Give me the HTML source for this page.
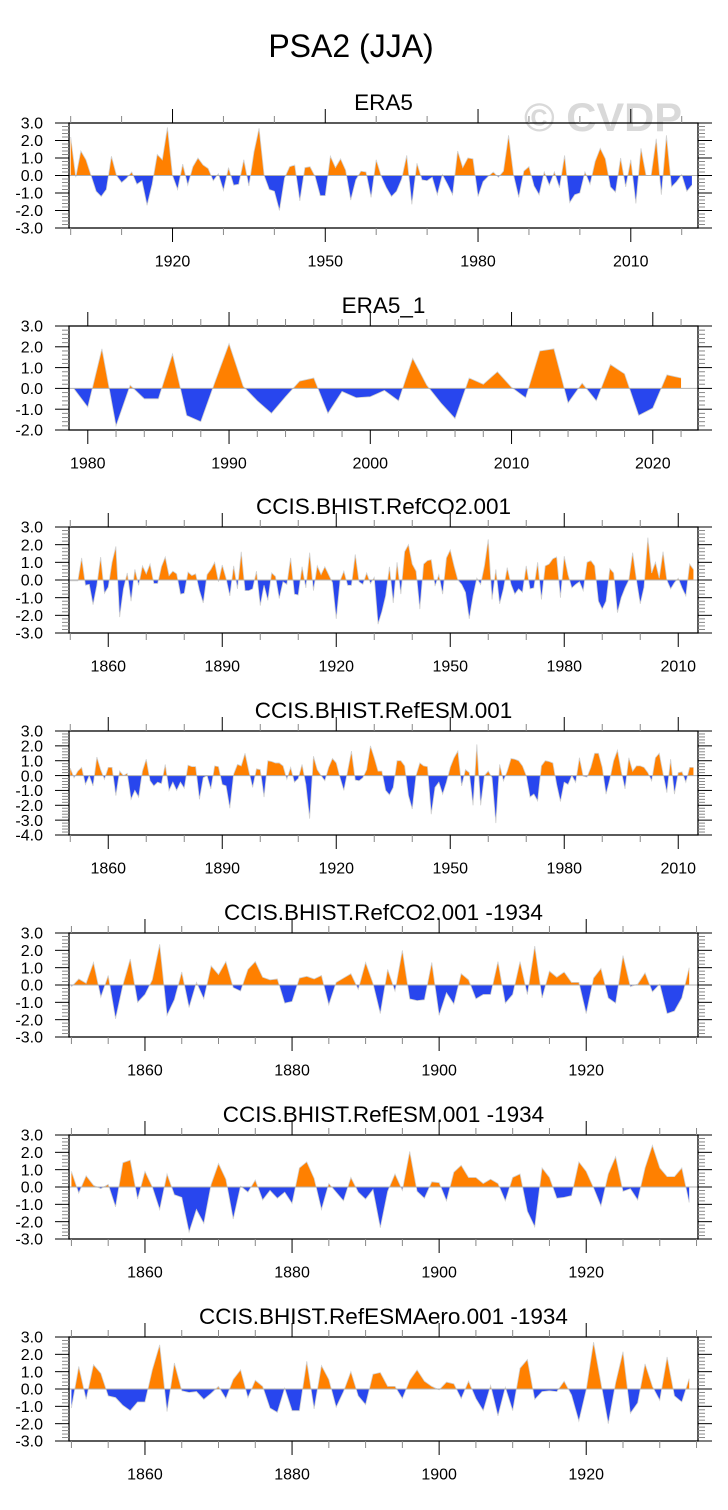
<!DOCTYPE html>
<html><head><meta charset="utf-8"><style>
html,body{margin:0;padding:0;background:#fff;}
svg{display:block;font-family:"Liberation Sans",sans-serif;}
</style></head><body>
<svg id="chart" width="728" height="1510" viewBox="0 0 728 1510" xmlns="http://www.w3.org/2000/svg">
<rect x="0" y="0" width="728" height="1510" fill="#fff"/>
<text x="351" y="57" font-size="32" text-anchor="middle" fill="#000">PSA2 (JJA)</text>
<text x="524" y="131" font-size="40" font-weight="bold" fill="#d9d9d9" textLength="158" lengthAdjust="spacingAndGlyphs">© CVDP</text>
<g id="panels"></g>
</svg>
<script>
// ---- data ----
const era5Start = 1900;
const era5Values = [2.2,-0.1,1.4,0.9,0.0,-0.9,-1.2,-0.8,1.1,0,-0.4,-0.15,0.2,-0.5,-0.3,-1.7,-0.5,1.2,0.9,2.75,0,-0.8,0.65,-0.55,0.5,1.0,0.6,0.4,-0.3,0.1,-0.85,0.45,-0.55,-0.5,0.9,-0.6,1.35,2.7,0,-0.8,-0.9,-2.0,-0.15,0.5,0.6,-1.45,0.45,0.5,-0.05,-1.15,-1.15,1.1,0.45,0.95,0.3,-1.4,-0.25,0.25,0.2,-1.25,0.9,-0.05,-0.7,-1.2,-0.9,-0.2,1.15,-1.65,0.7,-0.25,-0.3,-0.1,-1.1,0.05,-0.5,-1.1,1.4,0.45,1.0,0.95,-1.2,-0.35,-0.05,0.2,-0.1,0.25,2.3,0,-1.25,0.25,0.5,-0.6,-1.1,0.2,-0.55,0.2,-0.7,1.15,-1.55,-1.1,-1.0,0.2,-0.5,0.8,1.55,0.95,-0.65,-0.95,1.0,-0.65,0.9,-1.6,1.55,0,0,2.1,-1.1,2.3,-0.65,-0.35,0.05,-0.9,-0.55];
const era5bStart = 1979;
const era5bValues = [0.0,-0.9,1.9,-1.8,0.15,-0.5,-0.5,1.65,-1.3,-1.6,0.3,2.15,0.1,-0.6,-1.2,-0.4,0.35,0.5,-1.2,-0.15,-0.45,-0.4,-0.1,-0.6,1.45,0.15,-0.7,-1.45,0.5,0.2,0.8,0.05,-0.45,1.8,1.9,-0.7,0.25,-0.6,1.15,0.7,-1.3,-0.95,0.65,0.5];
const co2Start = 1850;
const co2Values = [-0.05,-0.05,-0.05,1.25,-0.3,-0.25,-1.4,-0.3,1.3,-0.75,-0.4,1.0,1.9,-2.1,-0.5,0.4,-1.2,0.6,-0.3,0.8,0.35,0.9,-0.2,-0.2,0.75,1.3,0.25,0.5,0.35,-0.8,-0.75,0.45,0.25,0.35,-0.6,-1.3,0.3,0.6,1.0,-0.1,0.85,0.1,-0.9,0.8,-0.5,1.6,-0.6,-0.6,-0.5,0.5,-1.45,-0.3,-1.15,0.4,0.2,-1.05,-0.1,-0.25,1.25,-0.8,-0.85,0.75,-0.45,1.55,-0.6,0.8,0.3,0.75,0.3,-0.15,-2.2,-0.05,0.5,-0.3,-0.3,1.45,-0.1,-0.25,0.4,-0.2,0.15,-2.5,-1.8,-0.9,0.75,-1.3,1.0,-0.8,1.6,2.0,0.9,0.5,-1.65,0.9,1.1,1.15,-0.35,0.3,-0.8,1.25,1.7,0.8,0,-0.25,-0.7,-2.2,-0.9,0.1,-0.25,0.8,2.3,-1.1,0.6,-1.35,-0.5,0.7,-0.25,-0.8,-0.5,-0.7,0.8,-0.5,-0.45,1.0,-1.1,0.8,0.9,1.2,1.3,-1.0,1.35,0.3,-0.45,-0.25,-0.1,-0.6,1.0,1.1,0.8,-1.2,-1.65,-1.2,0.65,0.4,-1.85,-1.0,-0.45,0,1.55,0,-1.35,-0.4,2.4,0.4,1.0,0.1,1.6,0,-0.5,-0.15,0.1,-0.45,-0.9,0.9,0.6];
const esmStart = 1850;
const esmValues = [0.5,-0.15,0.3,0.55,-0.6,0,-0.7,1.25,0.4,-0.25,0.55,0.55,-1.35,0.3,0,0.15,-1.6,-1.0,-1.45,0.3,1.1,-0.35,-0.7,-0.45,-0.55,0.75,-1.0,-0.45,-1.0,-0.45,-0.85,0.7,0.6,0.6,-1.6,-0.15,0,-0.9,0.65,0.6,-0.6,-0.7,-2.2,0.1,0.75,0.65,1.5,0.3,-0.8,0.45,0.4,-1.45,1.0,0.95,0.85,0.85,0.65,-0.25,0.55,-0.45,-0.2,0.75,-0.6,-2.9,1.3,0.4,0,-0.35,0.55,1.15,0.85,-0.15,-1.0,0.3,1.65,-0.3,-0.35,-0.15,0.4,2.0,1.2,0.3,0.3,-1.0,-1.3,-0.8,1.0,1.0,0.65,-1.35,-2.25,0,0.85,0.65,0.6,-2.6,-0.8,-0.45,-1.25,-0.45,0.55,1.2,1.65,-0.7,0.4,0.2,-2.0,2.1,-2.0,0,0.3,-0.15,-3.2,0.75,-0.35,0.3,1.15,1.1,1.0,0.65,0,-1.45,-1.25,-1.7,0.65,1.0,0.95,0.85,-0.6,-1.75,-0.45,-0.6,0,-0.45,1.2,-0.05,-0.1,0.55,1.5,1.5,0.55,-1.25,-0.25,1.0,1.7,0.3,-0.9,1.2,0.3,0.65,0.65,0.55,0.2,-0.35,1.2,1.5,0.15,-1.15,1.1,-1.25,0.2,0.25,-0.45,0.55,0.55];
const co2bStart = 1850;
const co2bValues = [-0.1,0.35,0.1,1.3,-0.7,0.55,-1.95,0,1.5,-1.0,-0.55,0.3,2.35,-1.75,-0.85,0.75,-1.3,0.15,-0.8,1.1,0.6,1.35,-0.15,-0.35,0.9,1.35,0.45,0.3,0.35,-1.05,-0.95,0.4,0.5,0.35,0.55,-1.15,0.15,0.4,0.65,-0.25,1.3,0.1,-1.65,0.9,-0.35,2.0,-0.8,-0.9,-0.85,1.3,-1.75,-0.45,-1.1,0.65,0.3,-0.8,-0.55,-0.55,1.35,-1.05,-0.55,1.35,-0.55,2.25,-0.75,0.8,0.45,0.75,0.15,0.15,-1.65,0.4,0.95,-0.75,-1.05,1.7,-0.1,0.05,0.7,-0.4,0.05,-1.65,-1.5,-0.75,1.0];
const esmbStart = 1850;
const esmbValues = [0.9,-0.35,0.65,0.1,-0.1,0.15,-1.15,1.4,1.55,-0.7,0.9,0,-1.3,0.75,-0.45,-0.6,-2.6,-1.3,-2.1,0.15,1.35,0.45,-1.85,0.05,-0.3,0.4,-0.75,-0.2,-0.65,-0.3,-0.95,1.1,1.45,0.5,-1.3,0.2,-0.3,-0.8,0.55,-0.3,-0.7,-0.15,-2.35,-0.25,0.75,-0.2,2.05,-0.25,-0.65,0.3,0.25,-0.8,0.85,1.25,0.55,0.55,0.2,0.45,0.2,-0.8,0.55,0.75,-1.4,-2.3,1.1,0.55,-0.65,-0.6,-0.5,1.45,0.9,-0.05,-1.1,0.75,1.75,-0.25,-0.1,-0.75,1.1,2.4,1.1,0.6,0.6,1.1,-0.9];
const aeroStart = 1850;
const aeroValues = [-1.1,1.3,-0.6,1.4,0.9,-0.4,-0.5,-0.95,-1.25,-0.75,-0.75,1.1,2.55,-1.3,1.5,-0.1,-0.2,-0.15,-0.6,-0.25,0.15,-0.55,0.55,1.1,-0.5,0.5,0.15,-1.1,-1.35,0.05,-1.25,-1.25,1.6,-1.15,1.35,0.55,-1.05,-0.15,1.0,-0.4,-0.9,0.85,0.95,0.15,0.15,-0.55,0.5,1.1,0.45,0.15,-0.05,0.4,0.3,-0.55,0.45,-0.55,-1.25,0.2,-1.55,0.1,-1.25,1.2,1.7,-0.6,-0.15,-0.1,-0.15,0.45,-0.35,-1.85,-0.05,2.7,0.35,-2.0,0.35,2.15,-1.4,-0.8,1.45,0.15,-0.65,1.85,-0.4,-0.75,0.6];
const yTickLabels3 = ["3.0","2.0","1.0","0.0","-1.0","-2.0","-3.0"];
const yTickLabelsERA5_1 = ["3.0","2.0","1.0","0.0","-1.0","-2.0"];
const yTickLabels4 = ["3.0","2.0","1.0","0.0","-1.0","-2.0","-3.0","-4.0"];
const panelTitles = ["ERA5","ERA5_1","CCIS.BHIST.RefCO2.001","CCIS.BHIST.RefESM.001","CCIS.BHIST.RefCO2.001 -1934","CCIS.BHIST.RefESM.001 -1934","CCIS.BHIST.RefESMAero.001 -1934"];

// ---- layout ----
const NS = "http://www.w3.org/2000/svg";
const X0 = 69, X1 = 698;
const panels = [
  {top:123, bot:228, start:era5Start, vals:era5Values, ylab:yTickLabels3, ymax:3, ymin:-3, major:30, minor:10, firstMajor:1920},
  {top:326, bot:430, start:era5bStart, vals:era5bValues, ylab:yTickLabelsERA5_1, ymax:3, ymin:-2, major:10, minor:2, firstMajor:1980},
  {top:527, bot:633, start:co2Start, vals:co2Values, ylab:yTickLabels3, ymax:3, ymin:-3, major:30, minor:10, firstMajor:1860},
  {top:731, bot:835, start:esmStart, vals:esmValues, ylab:yTickLabels4, ymax:3, ymin:-4, major:30, minor:10, firstMajor:1860},
  {top:933, bot:1037, start:co2bStart, vals:co2bValues, ylab:yTickLabels3, ymax:3, ymin:-3, major:20, minor:5, firstMajor:1860},
  {top:1135, bot:1239, start:esmbStart, vals:esmbValues, ylab:yTickLabels3, ymax:3, ymin:-3, major:20, minor:5, firstMajor:1860},
  {top:1337, bot:1441, start:aeroStart, vals:aeroValues, ylab:yTickLabels3, ymax:3, ymin:-3, major:20, minor:5, firstMajor:1860}
];
const root = document.getElementById('panels');
function mk(tag, attrs, parent){
  const e = document.createElementNS(NS, tag);
  for (const k in attrs) e.setAttribute(k, attrs[k]);
  parent.appendChild(e);
  return e;
}
panels.forEach((p, pi) => {
  const g = mk('g', {}, root);
  
  
  const n = p.vals.length;
  const xmin = p.start - 0.33, xmax = p.start + n - 1 + 1.2;
  const xs = yr => X0 + (yr - xmin) / (xmax - xmin) * (X1 - X0);
  const ys = v => p.top + (p.ymax - v) / (p.ymax - p.ymin) * (p.bot - p.top);
  const y0 = ys(0);
  const t = mk('text', {x:(X0+X1)/2, y:p.top-13, 'font-size':22.5, 'text-anchor':'middle', fill:'#000'}, g);
  t.textContent = panelTitles[pi];
  
  
  let d = 'M' + xs(p.start).toFixed(2) + ',' + y0.toFixed(2);
  let line = '';
  p.vals.forEach((v, i) => {
    const px = xs(p.start + i).toFixed(2), py = ys(v).toFixed(2);
    d += ' L' + px + ',' + py;
    line += (i ? ' L' : 'M') + px + ',' + py;
  });
  d += ' L' + xs(p.start + n - 1).toFixed(2) + ',' + y0.toFixed(2) + ' Z';
  const cidA = 'ca' + pi, cidB = 'cb' + pi;
  const defs = mk('defs', {}, g);
  const ca = mk('clipPath', {id:cidA}, defs);
  mk('rect', {x:X0, y:p.top, width:X1-X0, height:y0-p.top}, ca);
  const cb = mk('clipPath', {id:cidB}, defs);
  mk('rect', {x:X0, y:y0, width:X1-X0, height:p.bot-y0}, cb);
  const pos = mk('path', {d:d, fill:'#ff8000', 'clip-path':'url(#'+cidA+')'}, g);
  
  
  const neg = mk('path', {d:d, fill:'#2846ee', 'clip-path':'url(#'+cidB+')'}, g);
  
  
  const ln = mk('path', {d:line, fill:'none', stroke:'#d0d0d0', 'stroke-width':0.8}, g);
  
  
  const zl = mk('line', {x1:X0, x2:X1, y1:y0, y2:y0, stroke:'#b0b0b0', 'stroke-width':1}, g);
  
  
  const box = mk('rect', {x:X0, y:p.top, width:X1-X0, height:p.bot-p.top, fill:'none', stroke:'#000', 'stroke-width':1.3}, g);
  
  
  for (let v = p.ymin; v <= p.ymax + 1e-6; v += 0.2) {
    const yy = ys(v);
    const isMaj = Math.abs(v - Math.round(v)) < 1e-6;
    const len = isMaj ? 14 : 7, col = isMaj ? '#000' : '#888';
    mk('line', {x1:X0-len, x2:X0, y1:yy, y2:yy, stroke:col, 'stroke-width':1}, g);
    mk('line', {x1:X1, x2:X1+len, y1:yy, y2:yy, stroke:col, 'stroke-width':1}, g);
  }
  p.ylab.forEach((lab, i) => {
    const tx = mk('text', {x:43, y:ys(p.ymax - i) + 5.7, 'font-size':16, 'text-anchor':'end', fill:'#000'}, g);
    tx.textContent = lab;
    
    
  });
  const firstMinor = Math.ceil(xmin / p.minor) * p.minor;
  for (let yr = firstMinor; yr <= xmax; yr += p.minor) {
    const xx = xs(yr);
    const isMaj = ((yr - p.firstMajor) % p.major + p.major) % p.major === 0;
    const len = isMaj ? 14 : 7, col = isMaj ? '#000' : '#888';
    mk('line', {x1:xx, x2:xx, y1:p.bot, y2:p.bot+len, stroke:col, 'stroke-width':1}, g);
    mk('line', {x1:xx, x2:xx, y1:p.top-len, y2:p.top, stroke:col, 'stroke-width':1}, g);
    if (isMaj) {
      const tx = mk('text', {x:xx, y:p.bot+38.5, 'font-size':16, 'text-anchor':'middle', fill:'#000'}, g);
      tx.textContent = String(yr);
      
      
    }
  }
});
</script>
</body></html>
